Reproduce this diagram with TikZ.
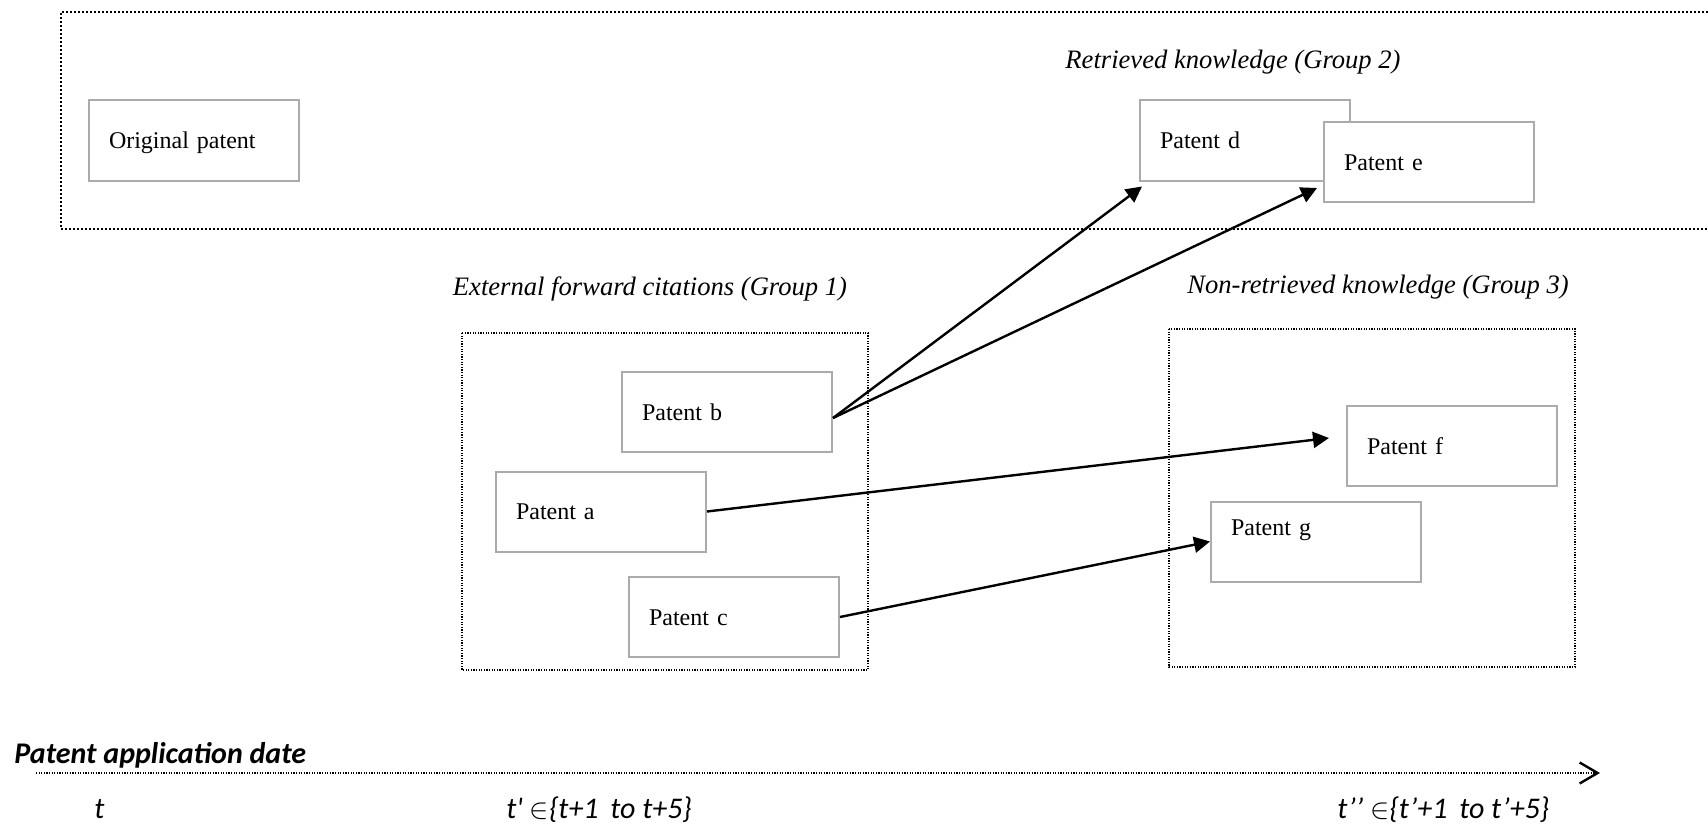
\documentclass[tikz,border=0pt]{standalone}
\usepackage{fontspec}
\setmainfont{Liberation Serif}
\newfontfamily\datefont{Carlito}
\usepackage{tikz}
\usetikzlibrary{arrows.meta}

\begin{document}
\begin{tikzpicture}[x=0.5pt,y=-0.5pt,
  patent/.style={rectangle,draw=black!33,line width=1pt,fill=white,minimum width=105pt,minimum height=40pt,
    inner xsep=10pt,text width=85pt,align=left,text height=8pt,text depth=0pt,font=\fontsize{12}{14}\selectfont},
  grouptitle/.style={font=\fontsize{13.3}{15}\selectfont\itshape},
  outerbox/.style={line width=1pt,dash pattern=on 1pt off 1pt},
  groupbox/.style={line width=0.6pt,dash pattern=on 0.6pt off 0.7pt},
  cite/.style={line width=1.2pt,-{Triangle[length=8pt,width=8pt]}},
  timeline/.style={line width=0.6pt,dash pattern=on 0.6pt off 0.7pt,
    -{Straight Barb[length=9pt,width=10.5pt,line width=1.2pt]}},
  datelabel/.style={anchor=base west,inner sep=0pt,font=\datefont\fontsize{15}{17}\selectfont\itshape}]
\useasboundingbox (0,0) rectangle (1708,824);

% original patent and group 2
\draw[outerbox] (1708,12) -- (61,12) -- (61,229) -- (1708,229);
\node[patent] (orig) at (194,140.5){Original patent};
\node[grouptitle] (t2) at (1233,62){Retrieved knowledge (Group 2)};
\node[patent] (pd) at (1245,140.5){Patent d};
\node[patent] (pe) at (1429,162){Patent e};

% group 1
\node[grouptitle] (t1) at (650,289){External forward citations (Group 1)};
\draw[groupbox] (462,333) rectangle (868,670);
\node[patent] (pb) at (727,412){Patent b};
\node[patent] (pa) at (601,511.5){Patent a};
\node[patent] (pc) at (734,617){Patent c};

% group 3
\node[grouptitle] (t3) at (1378,287){Non-retrieved knowledge (Group 3)};
\draw[groupbox] (1169,329) rectangle (1575,667);
\node[patent] (pf) at (1452,446){Patent f};
\node[patent,text depth=14pt] (pg) at (1316,541.5){Patent g};

% citations
\draw[cite] ([yshift=-3pt]pb.east) -- ([xshift=1.5pt,yshift=-2.5pt]pd.south west);
\draw[cite] ([yshift=-3pt]pb.east) -- ([xshift=-3pt,yshift=7.5pt]pe.south west);
\draw[cite] (pa.east) -- ([xshift=-8.5pt,yshift=4pt]pf.west);
\draw[cite] (pc.east) -- (pg.west);

% time axis
\node[datelabel,font=\datefont\fontsize{15}{17}\selectfont\bfseries\itshape] (pad) at (14,763){Patent application date};
\coordinate (tstart) at (36,773);
\coordinate (tend) at (1600,773);
\draw[timeline] (tstart) -- (tend);
\node[datelabel] (d0) at (94,818){t};
\node[datelabel] (d1) at (506,818){t\textquotesingle{} $\in$\{t+1\, to t+5\}};
\node[datelabel] (d2) at (1337,818){t’’ $\in$\{t’+1\, to t’+5\}};
\end{tikzpicture}
\end{document}
